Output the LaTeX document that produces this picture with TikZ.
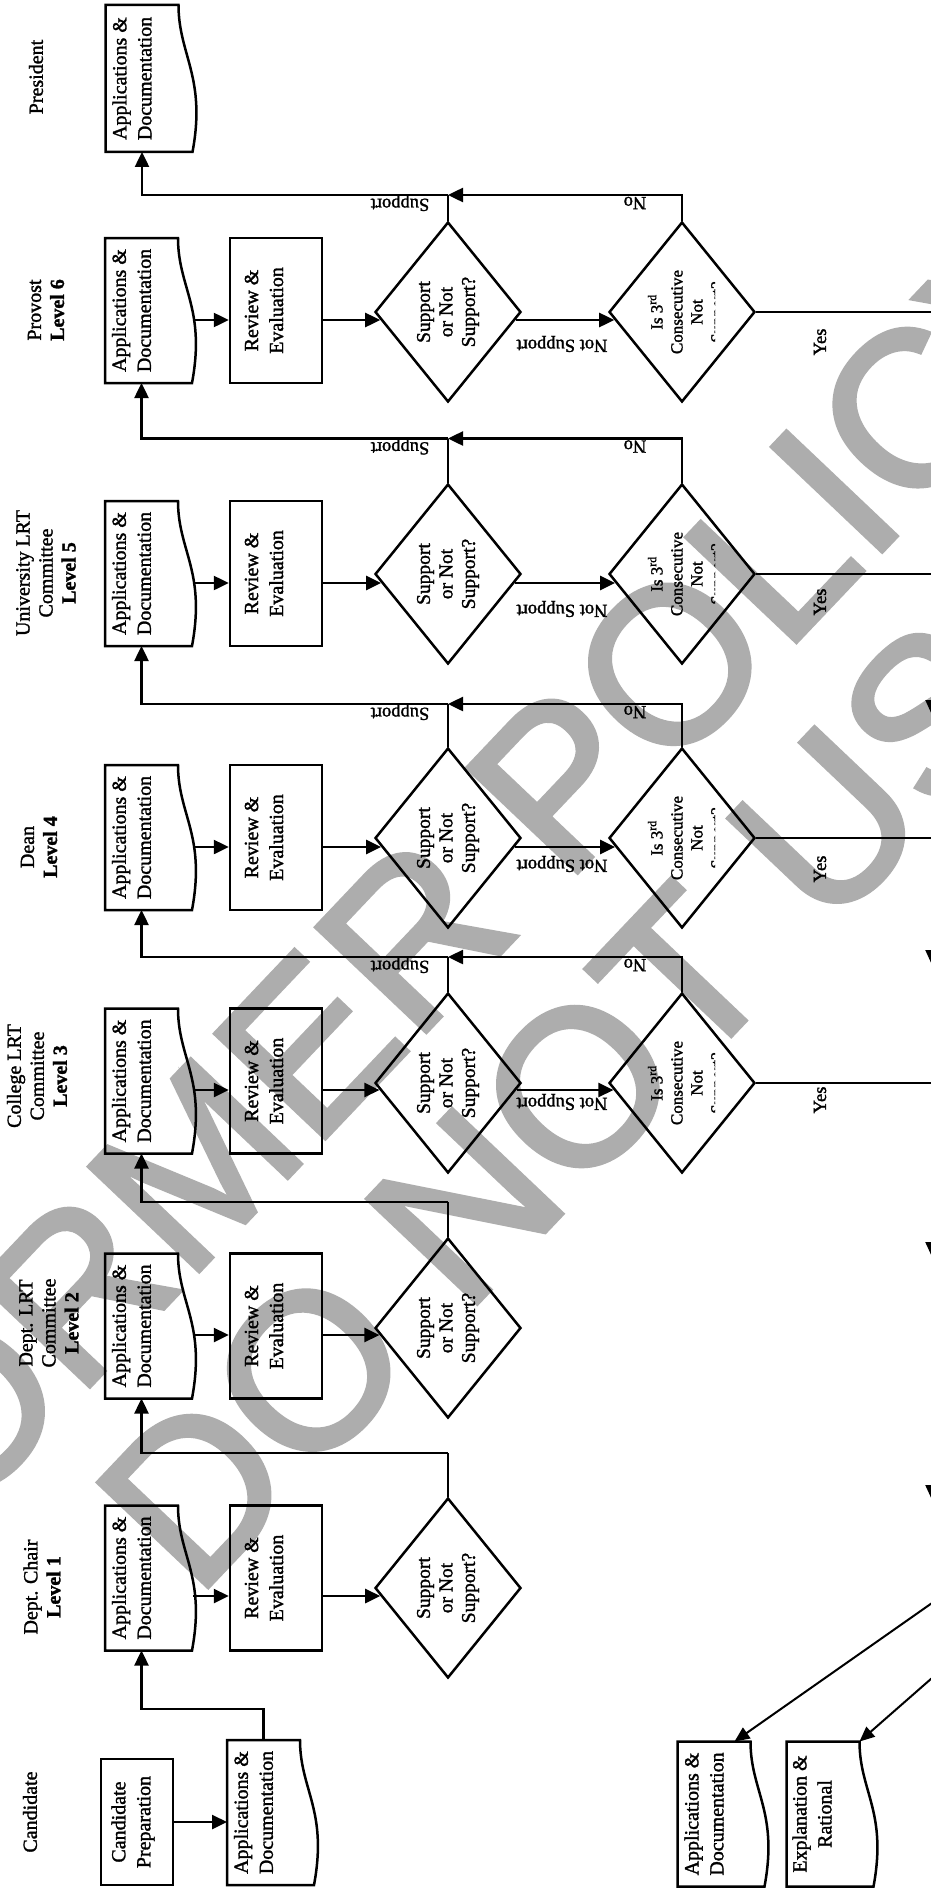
\documentclass[tikz,border=0pt]{standalone}
\usepackage{fontspec}
\setmainfont{Liberation Serif}[FakeBold=1.5]
\newfontfamily\wmfont{Liberation Sans}[FakeBold=2.2]
\usetikzlibrary{shapes.geometric,arrows.meta}
\definecolor{wmgray}{RGB}{173,173,173}
\newcommand\docpath[1]{\draw[lw,line join=miter] (#1.south west) -- (#1.north west) -- (#1.north east) .. controls +(0,50) and +(14,-75) .. ([xshift=14pt]#1.south east) -- cycle;}
\newcommand\mainrow[4]{%
 \node[docn] (doc#1) at (141.5,#2) {};
 \docpath{doc#1}
 \node[txt,rotate=90] at ([xshift=-10pt]doc#1.center) {Applications \&\\Documentation};
 \node[boxn] (rev#1) at (276,#2) {};
 \node[txt,rotate=90] at ([xshift=-12pt]rev#1.center) {Review \&\\Evaluation};
 \node[dia] (da#1) at (448,#4) {};
 \node[dtxt,rotate=90] at (da#1.center) {Support\\or Not\\Support?};
 \pgfmathsetmacro\offA{#2-#3}%
 \pgfmathsetmacro\offD{#4-#3}%
 \pgfmathsetmacro\xD{(#3-#4)*73/90}%
 \draw[arr] ([xshift=15pt,yshift=\offA pt]doc#1.east) -- ([yshift=\offA pt]rev#1.west);
 \draw[arr] ([yshift=\offA pt]rev#1.east) -- ([xshift=\xD pt,yshift=\offD pt]da#1.west);
}
\newcommand\decrow[5]{%
 \node[dia] (db#1) at (682,#3) {};
 \begin{scope}
  \clip (600,#3-100) rectangle (715,#3+100);
  \node[d2txt,rotate=90] at ([xshift=5pt]db#1.center) {Is 3\textsuperscript{rd}\\Consecutive\\Not\\Support?};
 \end{scope}
 \pgfmathsetmacro\offD{#3-#2}%
 \pgfmathsetmacro\xD{(#2-#3)*73/90}%
 \draw[arr] ([xshift=-\xD pt,yshift=\offD pt]da#1.east) -- ([xshift=\xD pt,yshift=\offD pt]db#1.west);
 \node[lbl,rotate=180] at (562,#4) {Not Support};
 \coordinate (bus#1) at (932,#3);
 \draw[thin2] (db#1.east) -- (bus#1);
 \node[lbl,rotate=90] at (820,#5) {Yes};
}
\newcommand\uprow[3]{%
 \coordinate (j#1) at (448,#3);
 \draw[lw] (da#1.north) -- (j#1);
 \draw[arr] (j#1) -| (#2.south);
}
\newcommand\norow[2]{%
 \draw[arr] (db#1.north) |- (j#1);
 \node[lbl,rotate=180] at (400,#2+8) {Support};
 \node[lbl,rotate=180] at (635,#2+8) {No};
}
\begin{document}
\begin{tikzpicture}[x=1pt,y=-1pt,
  lw/.style={line width=2.5pt},
  arr/.style={line width=2.5pt,-{Triangle[length=15pt,width=14pt]}},
  thin2/.style={line width=2pt},
  arrthin/.style={line width=2pt,-{Triangle[length=15pt,width=13pt]}},
  docn/.style={rectangle,minimum width=73pt,minimum height=145pt,inner sep=0pt,outer sep=0pt},
  boxn/.style={draw,line width=2.5pt,rectangle,minimum width=92pt,minimum height=145pt,inner sep=0pt},
  dia/.style={draw,line width=2.5pt,diamond,minimum width=146pt,minimum height=180pt,inner sep=0pt},
  txt/.style={font=\fontsize{20}{25}\selectfont,align=center,inner sep=0pt},
  dtxt/.style={font=\fontsize{19.5}{22.5}\selectfont,align=center,inner sep=0pt},
  d2txt/.style={font=\fontsize{17}{20}\selectfont,align=center,inner sep=0pt},
  htxt/.style={font=\fontsize{20}{23}\selectfont,align=center,inner sep=0pt},
  lbl/.style={font=\fontsize{18.5}{20}\selectfont,inner sep=0pt},
  wm/.style={font=\wmfont\fontsize{220}{220}\selectfont,text=wmgray,inner sep=0pt}]
\useasboundingbox (0,0) rectangle (931,1889);
\fill[white] (0,0) rectangle (931,1889);
% watermark
\node[wm,rotate=46.5] (wm1) at (439,908) {FORMER POLICY};
\node[wm,rotate=46.5] (wm2) at (612,1051) {DO NOT USE};
% headings
\node[htxt,rotate=90] (hP) at (36,77) {President};
\node[htxt,rotate=90] (h6) at (46,310) {Provost\\\textbf{Level 6}};
\node[htxt,rotate=90] (h5) at (46,573) {University LRT\\Committee\\\textbf{Level 5}};
\node[htxt,rotate=90] (h4) at (39,847) {Dean\\\textbf{Level 4}};
\node[htxt,rotate=90] (h3) at (37,1076) {College LRT\\Committee\\\textbf{Level 3}};
\node[htxt,rotate=90] (h2) at (49,1323) {Dept. LRT\\Committee\\\textbf{Level 2}};
\node[htxt,rotate=90] (h1) at (42,1587) {Dept. Chair\\\textbf{Level 1}};
\node[htxt,rotate=90] (hC) at (30,1812) {Candidate};
% president
\node[docn,minimum height=147pt] (docP) at (142,78.5) {};
\docpath{docP}
\node[txt,rotate=90] at ([xshift=-10pt]docP.center) {Applications \&\\Documentation};
% levels
\mainrow{6}{310.5}{320}{312}
\mainrow{5}{573.5}{583}{574}
\mainrow{4}{837.5}{847}{838}
\mainrow{3}{1081}{1090}{1083}
\mainrow{2}{1326}{1335}{1328}
\mainrow{1}{1578}{1596}{1588}
\decrow{6}{320}{312}{344}{342}
\decrow{5}{583}{574}{609}{602}
\decrow{4}{847}{838}{864}{869}
\decrow{3}{1090}{1083}{1102}{1100}
\uprow{6}{docP}{195}\norow{6}{195}
\uprow{5}{doc6}{438.5}\norow{5}{438.5}
\uprow{4}{doc5}{704}\norow{4}{704}
\uprow{3}{doc4}{957}\norow{3}{957}
\uprow{2}{doc3}{1202}
\uprow{1}{doc2}{1453}
% candidate
\node[boxn,minimum width=72pt,minimum height=126pt] (prep) at (137,1822) {};
\node[txt,rotate=90] at ([xshift=-4pt]prep.center) {Candidate\\Preparation};
\node[docn] (cdoc) at (263.5,1812.5) {};
\docpath{cdoc}
\node[txt,rotate=90] at ([xshift=-10pt]cdoc.center) {Applications \&\\Documentation};
\draw[arr] (prep.east) -- (prep.east -| cdoc.west);
\coordinate (jc) at (263.5,1709);
\draw[arr] (cdoc.north) -- (jc) -| (doc1.south);
% final documents
\node[docn] (fdA) at (714,1814) {};
\docpath{fdA}
\node[txt,rotate=90] at ([xshift=-10pt]fdA.center) {Applications \&\\Documentation};
\node[docn] (fdB) at (823,1814) {};
\docpath{fdB}
\node[txt,rotate=90] at ([xshift=-11pt]fdB.center) {Explanation \&\\Rational};
% bus along the right edge
\coordinate (a5) at (932,715);
\coordinate (a4) at (932,965);
\coordinate (a3) at (932,1257);
\coordinate (a2) at (932,1500);
\coordinate (s1) at (932,1603);
\coordinate (s2) at (932,1678);
\draw[thin2] (bus6) -- (bus5);
\draw[arrthin] (bus5) -- (a5);
\draw[thin2] (a5) -- (bus4);
\draw[arrthin] (bus4) -- (a4);
\draw[thin2] (a4) -- (bus3);
\draw[arrthin] (bus3) -- (a3);
\draw[arrthin] (a3) -- (a2);
\draw[thin2] (a2) -- (s2);
\draw[arrthin] (s1) -- ([xshift=-16pt]fdA.north east);
\draw[arrthin] (s2) -- (fdB.north east);
\end{tikzpicture}
\end{document}
